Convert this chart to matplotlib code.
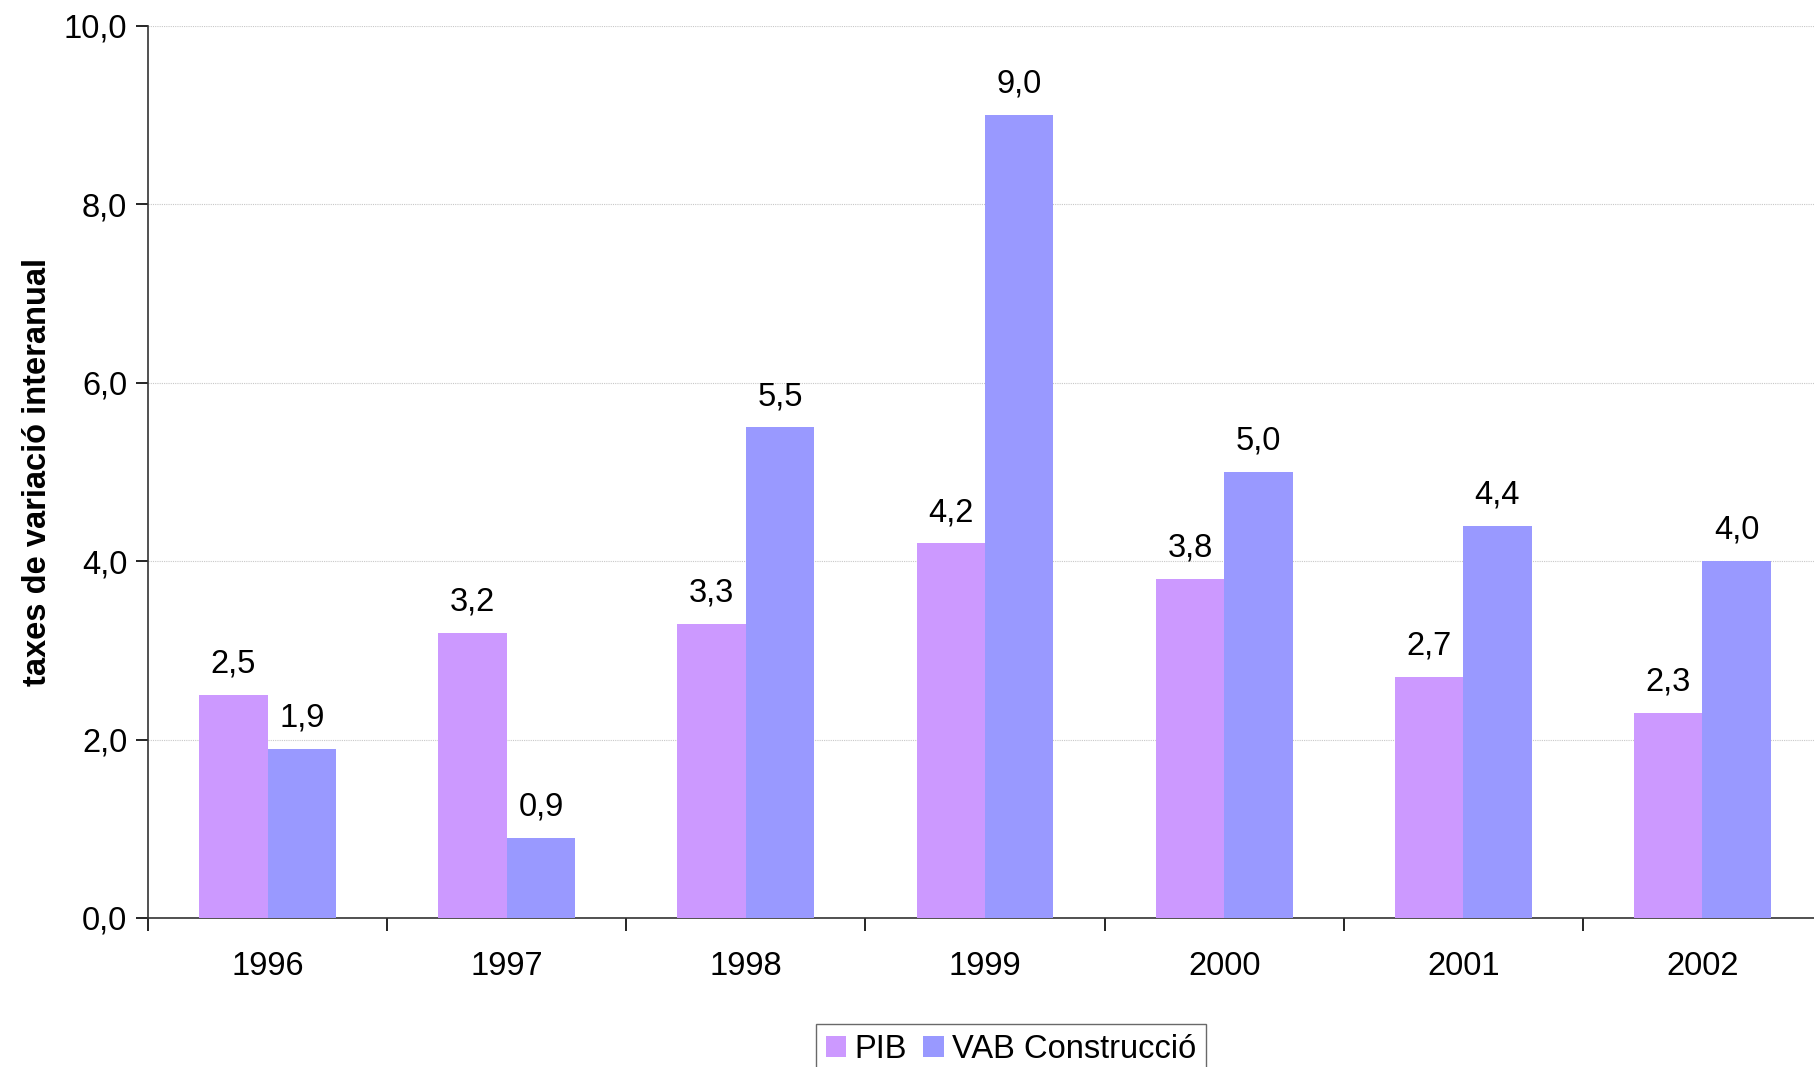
import matplotlib
matplotlib.use("Agg")
import matplotlib.pyplot as plt
import numpy as np

years = ["1996", "1997", "1998", "1999", "2000", "2001", "2002"]
pib = [2.5, 3.2, 3.3, 4.2, 3.8, 2.7, 2.3]
vab = [1.9, 0.9, 5.5, 9.0, 5.0, 4.4, 4.0]
series_names = ["PIB", "VAB Construcció"]
colors = ["#CC99FF", "#9999FF"]

plt.rcParams['font.family'] = ['Liberation Sans', 'DejaVu Sans']
FS = 23.5

fig = plt.figure(figsize=(18.14, 10.67), dpi=100)
ax = fig.add_axes([148/1814, (1067-918)/1067, (1822-148)/1814, (918-26)/1067])

x = np.arange(len(years))
w = 0.286
b1 = ax.bar(x - w/2, pib, w, color=colors[0], label=series_names[0], zorder=3)
b2 = ax.bar(x + w/2, vab, w, color=colors[1], label=series_names[1], zorder=3)

for bars, vals in ((b1, pib), (b2, vab)):
    for r, v in zip(bars, vals):
        ax.annotate(f"{v:.1f}".replace(".", ","), (r.get_x() + r.get_width()/2, v),
                    xytext=(0, 11), textcoords="offset points", ha="center", va="bottom",
                    fontsize=FS, zorder=4)

ax.set_xlim(-0.5, len(years) - 0.5)
ax.set_ylim(0, 10)
ax.set_yticks(np.arange(0, 10.01, 2))
ax.set_yticklabels([f"{t:.1f}".replace(".", ",") for t in np.arange(0, 10.01, 2)], fontsize=FS)
ax.set_xticks(np.arange(-0.5, len(years) - 0.4, 1))
ax.set_xticklabels([])
ax.set_xticks(x, minor=True)
ax.set_xticklabels(years, minor=True, fontsize=FS)
ax.tick_params(axis='x', which='minor', length=0, pad=24)
ax.tick_params(axis='x', which='major', length=9, width=1.2, direction='out')
ax.tick_params(axis='y', length=9, width=1.2, direction='out', pad=6)

ax.grid(axis='y', color='#C8C8C8', linestyle=(0, (1, 1)), linewidth=0.8, zorder=0)
for s in ("top", "right"):
    ax.spines[s].set_visible(False)
for s in ("left", "bottom"):
    ax.spines[s].set_linewidth(1.2)
    ax.spines[s].set_color("#333333")

ax.set_ylabel("taxes de variació interanual", fontsize=FS, fontweight='bold', labelpad=8)

leg = fig.legend(loc="upper center", bbox_to_anchor=(1011/1814, 1 - 1008/1067), ncol=2,
                 fontsize=FS, frameon=True, fancybox=False, edgecolor="#444444",
                 handlelength=0.62, handleheight=0.62, handletextpad=0.25, columnspacing=0.5,
                 borderpad=0.3)
leg.get_frame().set_linewidth(1.0)

fig.savefig("out.png", dpi=100, facecolor="white")
